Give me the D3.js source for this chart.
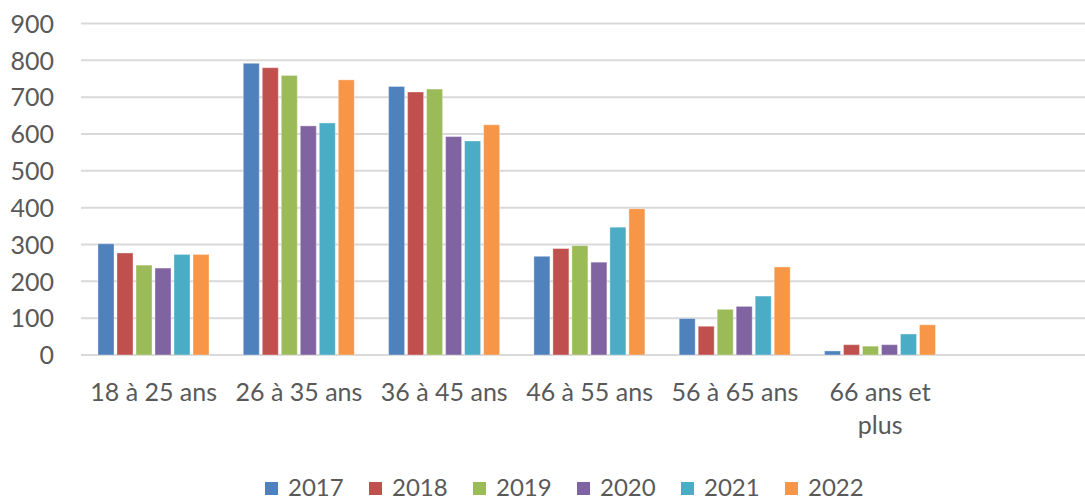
<!DOCTYPE html>
<html>
<head>
<meta charset="utf-8">
<script src="https://cdn.jsdelivr.net/npm/d3@7/dist/d3.min.js"></script>
<style>
  html, body { margin: 0; padding: 0; background: #fff; }
  svg { display: block; }
  text { font-family: Lato, "Noto Sans", sans-serif; fill: #595959; }
</style>
</head>
<body>
<svg id="chart" width="1085" height="502"></svg>
<script>
const categories = ["18 à 25 ans", "26 à 35 ans", "36 à 45 ans", "46 à 55 ans", "56 à 65 ans", "66 ans et plus"];
const years = ["2017", "2018", "2019", "2020", "2021", "2022"];
const v2017 = [302, 792, 729, 268, 99, 11];
const v2018 = [277, 780, 714, 289, 78, 28];
const v2019 = [244, 759, 722, 297, 124, 24];
const v2020 = [236, 622, 593, 252, 132, 28];
const v2021 = [273, 630, 581, 347, 160, 57];
const v2022 = [273, 747, 625, 397, 239, 82];
const yTicks = [0, 100, 200, 300, 400, 500, 600, 700, 800, 900];
const colors = ["#4F81BD", "#C0504D", "#9BBB59", "#8064A2", "#4BACC6", "#F79646"];

const seriesValues = [v2017, v2018, v2019, v2020, v2021, v2022];

const svg = d3.select("#chart");
const W = 1085;
const left = 81, bandW = 145.3;
const x0 = d3.scaleBand().domain(categories).range([left, left + bandW * categories.length]).paddingInner(0).paddingOuter(0);
const x1 = d3.scaleBand().domain(years).range([17, 128]).paddingInner(0.158).paddingOuter(0);
const y = d3.scaleLinear().domain([0, 900]).range([355, 23.5]);
const color = d3.scaleOrdinal().domain(years).range(colors);

// gridlines
svg.append("g").selectAll("line").data(yTicks).join("line")
  .attr("x1", left).attr("x2", W + 20)
  .attr("y1", d => y(d)).attr("y2", d => y(d))
  .attr("stroke", "#D9D9D9").attr("stroke-width", 2);

// y axis labels
const yAxis = d3.axisLeft(y).tickValues(yTicks).tickSize(0).tickPadding(0).tickFormat(d3.format("d"));
const gy = svg.append("g").attr("transform", "translate(54,0)").call(yAxis);
gy.select(".domain").remove();
gy.selectAll("text").style("font-size", "25px").style("font-family", "Lato, 'Noto Sans', sans-serif").attr("fill", "#595959").attr("dy", "0.35em");

// bars
const groups = svg.append("g").selectAll("g").data(categories).join("g")
  .attr("transform", d => `translate(${x0(d)},0)`);
groups.selectAll("rect")
  .data((c, i) => years.map((yr, s) => ({ yr, v: seriesValues[s][i] })))
  .join("rect")
  .attr("x", d => x1(d.yr))
  .attr("width", x1.bandwidth())
  .attr("y", d => y(d.v))
  .attr("height", d => y(0) - y(d.v))
  .attr("fill", d => color(d.yr))
  .attr("stroke", "rgba(255,255,255,0.35)")
  .attr("stroke-width", 1);

// x labels
const xAxis = d3.axisBottom(x0).tickSize(0).tickPadding(0);
const gx = svg.append("g").attr("transform", "translate(0,0)").call(xAxis);
gx.select(".domain").remove();
gx.selectAll("text").remove();
gx.selectAll(".tick").each(function(d) {
  const t = d3.select(this).append("text")
    .attr("text-anchor", "middle")
    .style("font-size", "25px")
    .attr("fill", "#595959");
  const lines = d === "66 ans et plus" ? ["66 ans et", "plus"] : [d];
  lines.forEach((ln, k) => {
    t.append("tspan").attr("x", 0).attr("y", 401 + k * 33).text(ln);
  });
});

// legend
const legend = svg.append("g").selectAll("g").data(years).join("g")
  .attr("transform", (d, i) => `translate(${265 + i * 104},0)`);
legend.append("rect").attr("x", 0).attr("y", 482).attr("width", 13).attr("height", 13)
  .attr("fill", d => color(d));
legend.append("text").attr("x", 23).attr("y", 496).style("font-size", "24px").text(d => d);
</script>
</body>
</html>
